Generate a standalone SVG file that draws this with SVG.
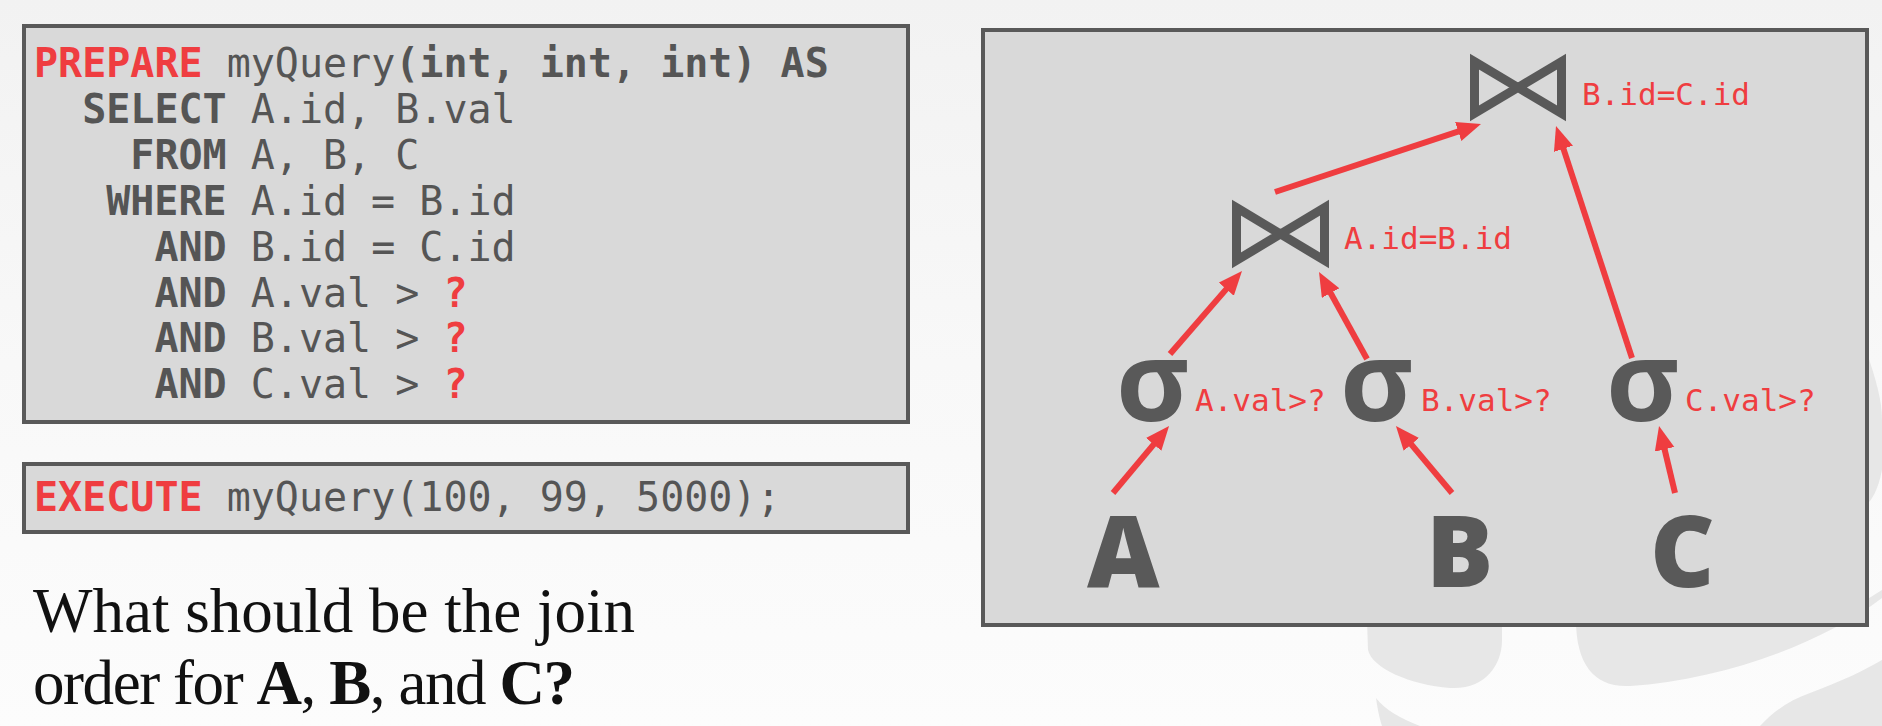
<svg xmlns="http://www.w3.org/2000/svg" width="1882" height="726" viewBox="0 0 1882 726">
<defs>
<linearGradient id="bg" x1="0" y1="0" x2="0" y2="1">
<stop offset="0" stop-color="#f2f2f2"/>
<stop offset="0.5" stop-color="#f8f8f8"/>
<stop offset="1" stop-color="#fcfcfc"/>
</linearGradient>
<marker id="ah" markerUnits="userSpaceOnUse" markerWidth="26" markerHeight="22" refX="6" refY="10" orient="auto">
<path d="M0,0 L24,10 L0,20 Z" fill="#ef3d40"/>
</marker>
<style>
.box{fill:#d9d9d9;stroke:#595959;stroke-width:4}
.code{font-family:"DejaVu Sans Mono","Liberation Mono",monospace;font-size:40px;fill:#555}
.b{font-weight:bold}
.red{fill:#ef3d40}
.lbl{font-family:"DejaVu Sans Mono","Liberation Mono",monospace;font-size:31px;fill:#ef3d40}
.sig{font-family:"Open Sans","DejaVu Sans",sans-serif;font-size:112px;font-weight:700;fill:#595959}
.rel{font-family:"Open Sans","DejaVu Sans",sans-serif;font-size:100px;font-weight:800;fill:#595959}
.join{fill:none;stroke:#595959;stroke-width:9;stroke-linejoin:miter}
.edge{stroke:#ef3d40;stroke-width:6;fill:none;marker-end:url(#ah)}
.q{font-family:"Liberation Serif","Times New Roman",serif;font-size:63px;fill:#111}
.wm{fill:#e7e7e7}
</style>
</defs>
<rect x="0" y="0" width="1882" height="726" fill="url(#bg)"/>
<g id="watermark">
<path class="wm" d="M1367,620 L1368,650 C1372,668 1410,685 1450,688 C1485,690 1502,665 1502,640 L1502,620 Z"/>
<path class="wm" d="M1576,620 C1576,665 1595,688 1630,686 C1720,680 1820,645 1882,598 L1882,590 L1866,600 L1866,620 Z"/>
<path class="wm" d="M1866,350 C1876,380 1882,400 1882,420 L1882,470 C1878,490 1872,500 1866,505 Z"/>
<path class="wm" d="M1376,698 C1378,712 1380,720 1382,726 L1420,726 C1400,718 1385,710 1376,698 Z"/>
<path class="wm" d="M1760,726 C1775,710 1790,700 1810,693 C1840,682 1865,670 1882,660 L1882,726 Z"/>
</g>
<g id="prepare-box">
<rect class="box" x="24" y="26" width="884" height="396"/>
<text class="code" x="34" y="77"><tspan class="b red">PREPARE</tspan> myQuery<tspan class="b">(int, int, int) AS</tspan></text>
<text class="code" x="82.2" y="122.9"><tspan class="b">SELECT</tspan> A.id, B.val</text>
<text class="code" x="130.3" y="168.8"><tspan class="b">FROM</tspan> A, B, C</text>
<text class="code" x="106.2" y="214.7"><tspan class="b">WHERE</tspan> A.id = B.id</text>
<text class="code" x="154.4" y="260.6"><tspan class="b">AND</tspan> B.id = C.id</text>
<text class="code" x="154.4" y="306.5"><tspan class="b">AND</tspan> A.val &gt; <tspan class="b red">?</tspan></text>
<text class="code" x="154.4" y="352.4"><tspan class="b">AND</tspan> B.val &gt; <tspan class="b red">?</tspan></text>
<text class="code" x="154.4" y="398.3"><tspan class="b">AND</tspan> C.val &gt; <tspan class="b red">?</tspan></text>
</g>
<g id="execute-box">
<rect class="box" x="24" y="464" width="884" height="68"/>
<text class="code" x="34" y="511"><tspan class="b red">EXECUTE</tspan> myQuery(100, 99, 5000);</text>
</g>
<g id="question">
<text class="q" x="33" y="632">What should be the join</text>
<text class="q" x="33" y="704" textLength="542" lengthAdjust="spacing">order for <tspan font-weight="bold">A</tspan>, <tspan font-weight="bold">B</tspan>, and <tspan font-weight="bold">C?</tspan></text>
</g>
<g id="plan-box">
<rect class="box" x="983" y="30" width="884" height="595"/>
</g>
<g id="connectors">
<line class="edge" x1="1113" y1="493" x2="1157.5" y2="439.8"/>
<line class="edge" x1="1170" y1="354" x2="1230.2" y2="284.6"/>
<line class="edge" x1="1452" y1="493" x2="1407.5" y2="439.8"/>
<line class="edge" x1="1367" y1="359" x2="1327.7" y2="287.8"/>
<line class="edge" x1="1275" y1="192" x2="1463.9" y2="129.6"/>
<line class="edge" x1="1632" y1="358" x2="1561.6" y2="143.1"/>
<line class="edge" x1="1675" y1="493" x2="1663.2" y2="443.5"/>
</g>
<g id="join-top">
<path class="join" d="M1474.5,61.6 L1518,87.5 L1561.5,61.6 L1561.5,113.4 L1518,87.5 L1474.5,113.4 Z"/>
<text class="lbl" x="1582" y="105">B.id=C.id</text>
</g>
<g id="join-ab">
<path class="join" d="M1236.5,207.6 L1280.5,234 L1324.5,207.6 L1324.5,260.4 L1280.5,234 L1236.5,260.4 Z"/>
<text class="lbl" x="1344" y="249">A.id=B.id</text>
</g>
<g id="select-a">
<text class="sig" x="1116" y="421">σ</text>
<text class="lbl" x="1195" y="411">A.val&gt;?</text>
</g>
<g id="select-b">
<text class="sig" x="1340" y="421">σ</text>
<text class="lbl" x="1421" y="411">B.val&gt;?</text>
</g>
<g id="select-c">
<text class="sig" x="1606" y="421">σ</text>
<text class="lbl" x="1685" y="411">C.val&gt;?</text>
</g>
<g id="table-a"><text class="rel" x="1087" y="587">A</text></g>
<g id="table-b"><text class="rel" x="1426" y="587">B</text></g>
<g id="table-c"><text class="rel" x="1650" y="587">C</text></g>
</svg>
